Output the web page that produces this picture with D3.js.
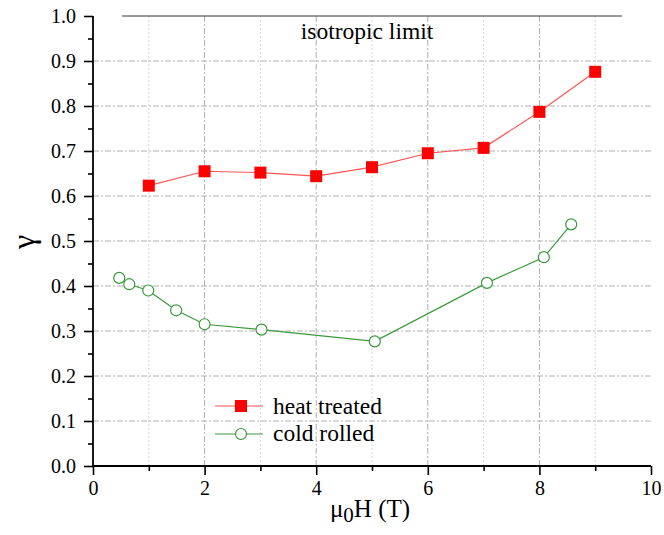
<!DOCTYPE html>
<html><head><meta charset="utf-8">
<script src="https://cdn.jsdelivr.net/npm/d3@7"></script>
<style>body{margin:0;background:#fff}svg{display:block}</style>
</head><body><svg id="c" width="664" height="535" font-family="'Liberation Serif', 'Times New Roman', serif"></svg>
<script>
const heatX = [1,2,3,4,5,6,7,8,9];
const heatY = [0.623,0.655,0.652,0.644,0.664,0.695,0.707,0.787,0.876];
const coldX = [0.47,0.65,0.99,1.49,2.0,3.02,5.05,7.06,8.08,8.57];
const coldY = [0.418,0.404,0.390,0.346,0.315,0.303,0.277,0.407,0.464,0.537];
const xTicks = [0,2,4,6,8,10];
const yTicks = [0,0.1,0.2,0.3,0.4,0.5,0.6,0.7,0.8,0.9,1.0];
const isoX = [0.52,9.48];
const isoY = 1.0;

const FONT = "'Liberation Serif', 'Times New Roman', serif";
const svg = d3.select("#c");
const x = d3.scaleLinear().domain([0,10]).range([93,651]);
const y = d3.scaleLinear().domain([0,1]).range([466,16]);

// grid
const g = svg.append("g");
d3.range(1,10,2).forEach(v=>g.append("line").attr("x1",x(v)).attr("x2",x(v)).attr("y1",y(0)).attr("y2",y(1))
  .attr("stroke","#d4d4d4").attr("stroke-width",1).attr("stroke-dasharray","2,2"));
xTicks.filter(v=>v>0&&v<10).forEach(v=>g.append("line").attr("x1",x(v)).attr("x2",x(v)).attr("y1",y(0)).attr("y2",y(1))
  .attr("stroke","#b0b0b0").attr("stroke-width",1).attr("stroke-dasharray","6,2,2,2"));
yTicks.filter(v=>v>0&&v<1).forEach(v=>g.append("line").attr("x1",x(0)).attr("x2",x(10)).attr("y1",y(v)).attr("y2",y(v))
  .attr("stroke","#b0b0b0").attr("stroke-width",1).attr("stroke-dasharray","6,2,2,2"));

// isotropic limit
svg.append("line").attr("x1",x(isoX[0])).attr("x2",x(isoX[1])).attr("y1",y(isoY)).attr("y2",y(isoY))
  .attr("stroke","#333").attr("stroke-width",1);
svg.append("text").attr("x",367).attr("y",39).attr("text-anchor","middle").attr("font-size",23.5).text("isotropic limit");

// axes
const xa = svg.append("g").attr("transform",`translate(0,${y(0)})`)
  .call(d3.axisBottom(x).tickValues(xTicks).tickSize(9).tickPadding(6).tickFormat(d3.format("d")));
xa.append("g").call(d3.axisBottom(x).tickValues(d3.range(1,10,2)).tickSize(5).tickFormat(""));
const ya = svg.append("g").attr("transform",`translate(${x(0)},0)`)
  .call(d3.axisLeft(y).tickValues(yTicks).tickSize(9).tickPadding(8).tickFormat(d3.format(".1f")));
ya.append("g").call(d3.axisLeft(y).tickValues(d3.range(0.05,1,0.1)).tickSize(5).tickFormat(""));
[xa,ya].forEach(a=>{
  a.attr("font-family",FONT).attr("font-size",20);
  a.selectAll("g").attr("font-family",FONT);
  a.selectAll(".domain").remove();
  a.selectAll("line").attr("stroke","#000").attr("stroke-width",1.6);
  a.selectAll("text").attr("font-size",20).attr("fill","#000").attr("font-family",FONT);
});
svg.append("line").attr("x1",x(0)).attr("x2",x(10)).attr("y1",y(0)).attr("y2",y(0)).attr("stroke","#000").attr("stroke-width",1.8);
svg.append("line").attr("x1",x(0)).attr("x2",x(0)).attr("y1",y(0)).attr("y2",y(1)).attr("stroke","#000").attr("stroke-width",1.8);

// titles
const xt = svg.append("text").attr("x",370).attr("y",517).attr("text-anchor","middle").attr("font-size",25);
xt.append("tspan").text("μ");
xt.append("tspan").attr("font-size",21).attr("dy",5).text("0");
xt.append("tspan").attr("dy",-5).text("H (T)");
svg.append("text").attr("transform","translate(34,242) rotate(-90)").attr("text-anchor","middle").attr("font-size",32).text("γ");

// series
const line = d3.line().x(d=>x(d[0])).y(d=>y(d[1]));
const heat = heatX.map((v,i)=>[v,heatY[i]]);
const cold = coldX.map((v,i)=>[v,coldY[i]]);
svg.append("path").attr("d",line(heat)).attr("fill","none").attr("stroke","#ff5555").attr("stroke-width",1.2);
svg.append("path").attr("d",line(cold)).attr("fill","none").attr("stroke","#3a9a3a").attr("stroke-width",1.2);
svg.selectAll(".sq").data(heat).enter().append("rect").attr("x",d=>x(d[0])-6).attr("y",d=>y(d[1])-6)
  .attr("width",12).attr("height",12).attr("fill","#ff0000");
svg.selectAll(".ci").data(cold).enter().append("circle").attr("cx",d=>x(d[0])).attr("cy",d=>y(d[1])).attr("r",5.5)
  .attr("fill","#fff").attr("stroke","#3a9a3a").attr("stroke-width",1.2);

// legend
const lg = svg.append("g");
lg.append("line").attr("x1",215).attr("x2",263).attr("y1",406).attr("y2",406).attr("stroke","#ff5555").attr("stroke-width",1.2);
lg.append("rect").attr("x",235).attr("y",400).attr("width",12).attr("height",12).attr("fill","#ff0000");
lg.append("text").attr("x",273).attr("y",414).attr("font-size",23.5).text("heat treated");
lg.append("line").attr("x1",215).attr("x2",263).attr("y1",434).attr("y2",434).attr("stroke","#3a9a3a").attr("stroke-width",1.2);
lg.append("circle").attr("cx",241).attr("cy",434).attr("r",5.5).attr("fill","#fff").attr("stroke","#3a9a3a").attr("stroke-width",1.2);
lg.append("text").attr("x",273).attr("y",441).attr("font-size",23.5).text("cold rolled");
</script></body></html>
